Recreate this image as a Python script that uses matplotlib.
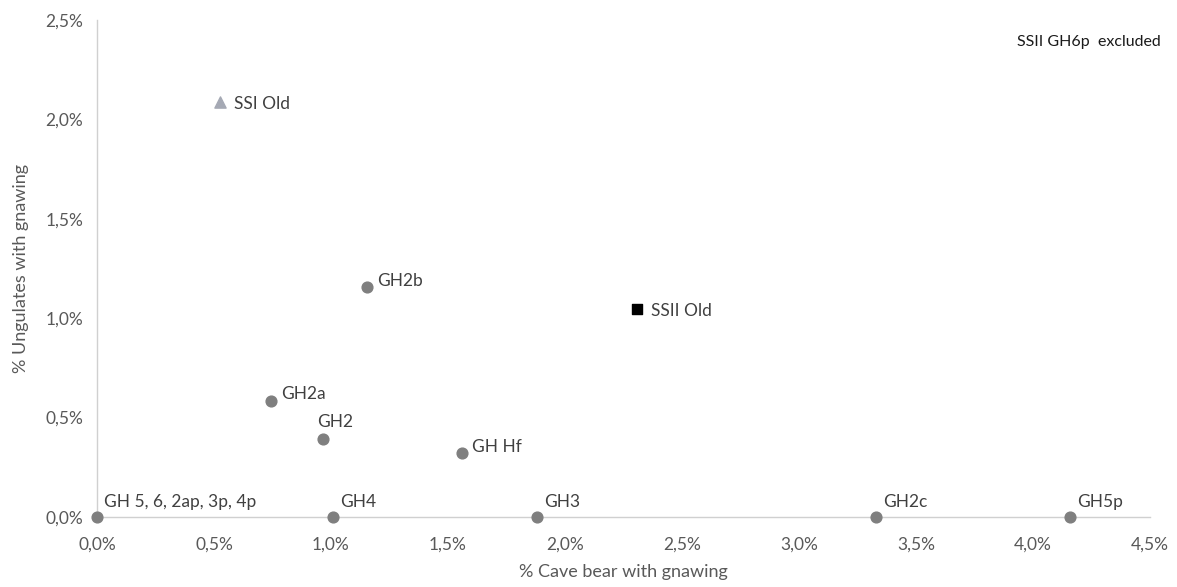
import matplotlib.pyplot as plt
from matplotlib.ticker import FuncFormatter

plt.rcParams["font.family"] = ["Lato", "DejaVu Sans"]

# Gnawing percentages per level
gh_labels = ["GH 5, 6, 2ap, 3p, 4p", "GH4", "GH3", "GH2c", "GH5p",
             "GH2a", "GH2", "GH Hf", "GH2b"]
gh_cave_bear = [0.0, 1.01, 1.88, 3.33, 4.16, 0.745, 0.965, 1.56, 1.155]
gh_ungulates = [0.0, 0.0, 0.0, 0.0, 0.0, 0.585, 0.39, 0.32, 1.155]

ssi_x, ssi_y = [0.525], [2.085]
ssii_x, ssii_y = [2.31], [1.045]

fig = plt.figure(figsize=(11.77, 5.87), dpi=100)
ax = fig.add_axes([0.0824, 0.1193, 0.8946, 0.8467])

ax.scatter(gh_cave_bear, gh_ungulates, s=60, color="#7f7f7f", zorder=3, clip_on=False)
ax.scatter(ssi_x, ssi_y, s=65, marker="^", color="#a5a9b4", zorder=3)
ax.scatter(ssii_x, ssii_y, s=55, marker="s", color="#000000", zorder=3)

label_col = "#404040"
fs = 12.5
# label offsets (points): bottom-row labels sit above-right of the dot
for lab, x, y in zip(gh_labels, gh_cave_bear, gh_ungulates):
    if y == 0:
        ax.annotate(lab, (x, y), xytext=(5, 5), textcoords="offset points",
                    fontsize=fs, color=label_col, va="bottom")
    elif lab == "GH2":
        ax.annotate(lab, (x, y), xytext=(-4, 7), textcoords="offset points",
                    fontsize=fs, color=label_col, va="bottom")
    else:
        ax.annotate(lab, (x, y), xytext=(7, -1), textcoords="offset points",
                    fontsize=fs, color=label_col, va="bottom")
ax.annotate("SSI Old", (ssi_x[0], ssi_y[0]), xytext=(10, -1), textcoords="offset points",
            fontsize=fs, color=label_col, va="center")
ax.annotate("SSII Old", (ssii_x[0], ssii_y[0]), xytext=(10, -1), textcoords="offset points",
            fontsize=fs, color=label_col, va="center")

ax.text(1.01, 0.955, "SSII GH6p  excluded", transform=ax.transAxes,
        ha="right", va="center", fontsize=11.5, color="#1a1a1a")

ax.set_xlim(0, 4.5)
ax.set_ylim(0, 2.5)
ax.set_xticks([0, 0.5, 1, 1.5, 2, 2.5, 3, 3.5, 4, 4.5])
ax.set_yticks([0, 0.5, 1, 1.5, 2, 2.5])
pct = FuncFormatter(lambda v, p: f"{v:.1f}%".replace(".", ","))
ax.xaxis.set_major_formatter(pct)
ax.yaxis.set_major_formatter(pct)

for s in ["top", "right"]:
    ax.spines[s].set_visible(False)
for s in ["left", "bottom"]:
    ax.spines[s].set_color("#d0d0d0")
    ax.spines[s].set_linewidth(1.0)
ax.tick_params(length=0, labelsize=fs, colors="#595959")
ax.tick_params(axis="x", pad=14)
ax.tick_params(axis="y", pad=10)

ax.set_xlabel("% Cave bear with gnawing", fontsize=13, color="#595959", labelpad=8)
ax.set_ylabel("% Ungulates with gnawing", fontsize=13, color="#595959", labelpad=12)

fig.savefig("out.png", dpi=100)
